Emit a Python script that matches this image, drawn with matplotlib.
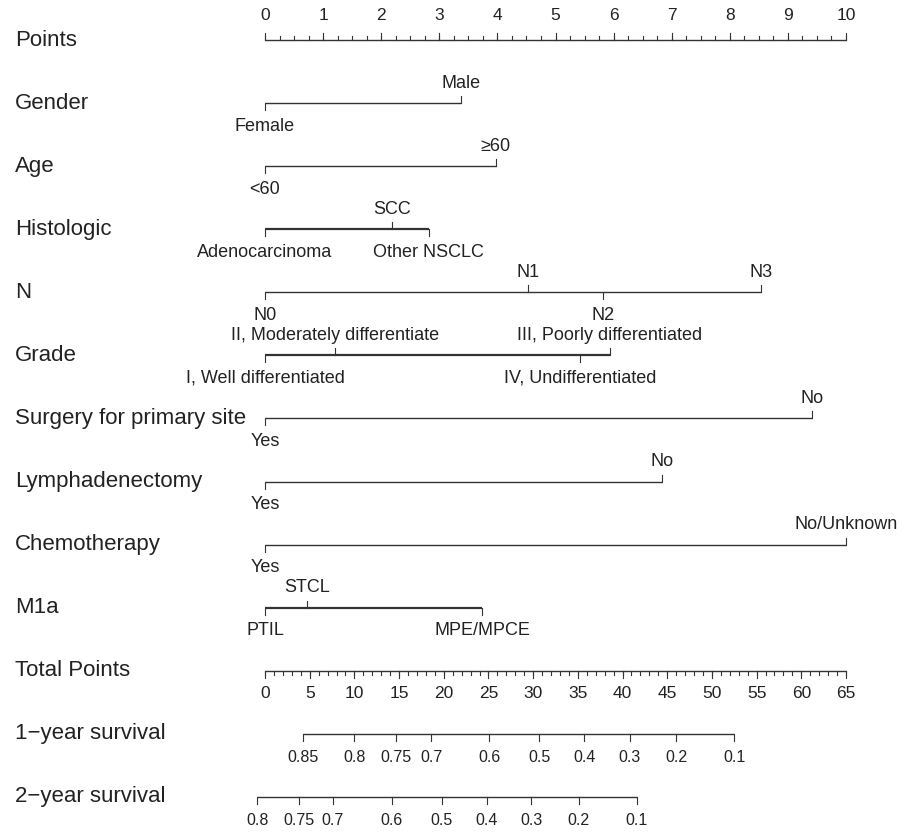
import numpy as np
import matplotlib
matplotlib.use("Agg")
import matplotlib.pyplot as plt

plt.rcParams["font.family"] = ["Liberation Sans", "DejaVu Sans"]

# point scale
points_major = list(range(0, 11))
points_minor = list(np.arange(0, 10.01, 0.25))

# predictors: levels, points, label side
gender_levels = ["Female", "Male"]
gender_pts = [0.0, 3.37]
gender_side = ["below", "above"]

age_levels = ["<60", "\u226560"]
age_pts = [0.0, 3.97]
age_side = ["below", "above"]

hist_levels = ["Adenocarcinoma", "SCC", "Other NSCLC"]
hist_pts = [0.0, 2.19, 2.82]
hist_side = ["below", "above", "below"]

n_levels = ["N0", "N1", "N2", "N3"]
n_pts = [0.0, 4.52, 5.82, 8.53]
n_side = ["below", "above", "below", "above"]

grade_levels = ["I, Well differentiated", "II, Moderately differentiate",
                "IV, Undifferentiated", "III, Poorly differentiated"]
grade_pts = [0.0, 1.21, 5.43, 5.93]
grade_side = ["below", "above", "below", "above"]

surgery_levels = ["Yes", "No"]
surgery_pts = [0.0, 9.42]
surgery_side = ["below", "above"]

lymph_levels = ["Yes", "No"]
lymph_pts = [0.0, 6.83]
lymph_side = ["below", "above"]

chemo_levels = ["Yes", "No/Unknown"]
chemo_pts = [0.0, 10.0]
chemo_side = ["below", "above"]

m1a_levels = ["PTIL", "STCL", "MPE/MPCE"]
m1a_pts = [0.0, 0.73, 3.74]
m1a_side = ["below", "above", "below"]

# total points scale
total_max = 65
total_major = list(range(0, 66, 5))
total_minor = list(range(0, 66, 1))

# survival scales (position in total points)
surv1_labels = ["0.85", "0.8", "0.75", "0.7", "0.6", "0.5", "0.4", "0.3", "0.2", "0.1"]
surv1_total = [4.3, 10.0, 14.7, 18.6, 25.1, 30.7, 35.7, 40.8, 46.0, 52.5]
surv2_labels = ["0.8", "0.75", "0.7", "0.6", "0.5", "0.4", "0.3", "0.2", "0.1"]
surv2_total = [-0.85, 3.8, 7.6, 14.2, 19.8, 24.8, 29.8, 35.1, 41.6]

predictors = [
    ("Gender", gender_levels, gender_pts, gender_side, 1.0),
    ("Age", age_levels, age_pts, age_side, 1.0),
    ("Histologic", hist_levels, hist_pts, hist_side, 1.6),
    ("N", n_levels, n_pts, n_side, 1.0),
    ("Grade", grade_levels, grade_pts, grade_side, 1.6),
    ("Surgery for primary site", surgery_levels, surgery_pts, surgery_side, 1.0),
    ("Lymphadenectomy", lymph_levels, lymph_pts, lymph_side, 1.0),
    ("Chemotherapy", chemo_levels, chemo_pts, chemo_side, 1.0),
    ("M1a", m1a_levels, m1a_pts, m1a_side, 1.6),
]

LINE = "#333333"
TXT = "#222222"
PX_X = 58.1   # px per point
PX_Y = 63.08  # px per row
TICK = 7 / PX_Y
MINOR = 4 / PX_Y


def tot2pts(v):
    return np.asarray(v, dtype=float) * 10.0 / total_max


def row_label(ax, y, text):
    ax.text((15 - 265) / PX_X, y, text, ha="left", va="center",
            fontsize=16, color=TXT)


def draw_scale(ax, y, major, minor, labels, up, lab_off, fs):
    ax.plot([min(major + minor), max(major + minor)], [y, y], color=LINE, lw=1.0,
            solid_capstyle="butt")
    d = -1 if up else 1
    for x in minor:
        ax.plot([x, x], [y, y + d * MINOR], color=LINE, lw=0.8)
    for x, lab in zip(major, labels):
        ax.plot([x, x], [y, y + d * TICK], color=LINE, lw=0.8)
        ax.text(x, y + lab_off, lab, ha="center", va="center",
                fontsize=fs, color=TXT)


def main():
    fig = plt.figure(figsize=(9.12, 8.32), dpi=100)
    ax = fig.add_axes([0, 0, 1, 1])
    ax.set_xlim(-265 / PX_X, (912 - 265) / PX_X)
    ax.set_ylim((832 - 40) / PX_Y, -40 / PX_Y)
    ax.axis("off")

    # Points
    row_label(ax, 0, "Points")
    draw_scale(ax, 0, points_major, points_minor,
               [str(p) for p in points_major], True, -25 / PX_Y, 12.5)

    # predictors
    for i, (name, levels, pts, sides, lw) in enumerate(predictors):
        y = i + 1
        row_label(ax, y, name)
        ax.plot([min(pts), max(pts)], [y, y], color=LINE, lw=lw,
                solid_capstyle="butt")
        for lev, p, s in zip(levels, pts, sides):
            if s == "above":
                ax.plot([p, p], [y, y - TICK], color=LINE, lw=0.8)
                ax.text(p, y - 20 / PX_Y, lev, ha="center", va="center",
                        fontsize=13, color=TXT)
            else:
                ax.plot([p, p], [y, y + TICK], color=LINE, lw=0.8)
                ax.text(p, y + 23 / PX_Y, lev, ha="center", va="center",
                        fontsize=13, color=TXT)

    # Total Points
    y = len(predictors) + 1
    row_label(ax, y, "Total Points")
    draw_scale(ax, y, list(tot2pts(total_major)), list(tot2pts(total_minor)),
               [str(t) for t in total_major], False, 23 / PX_Y, 12.5)

    # survival
    y += 1
    row_label(ax, y, "1\u2212year survival")
    draw_scale(ax, y, list(tot2pts(surv1_total)), [], surv1_labels,
               False, 24 / PX_Y, 11.5)
    y += 1
    row_label(ax, y, "2\u2212year survival")
    draw_scale(ax, y, list(tot2pts(surv2_total)), [], surv2_labels,
               False, 24 / PX_Y, 11.5)

    fig.savefig("out.png", dpi=100)
    plt.close(fig)


if __name__ == "__main__":
    main()
